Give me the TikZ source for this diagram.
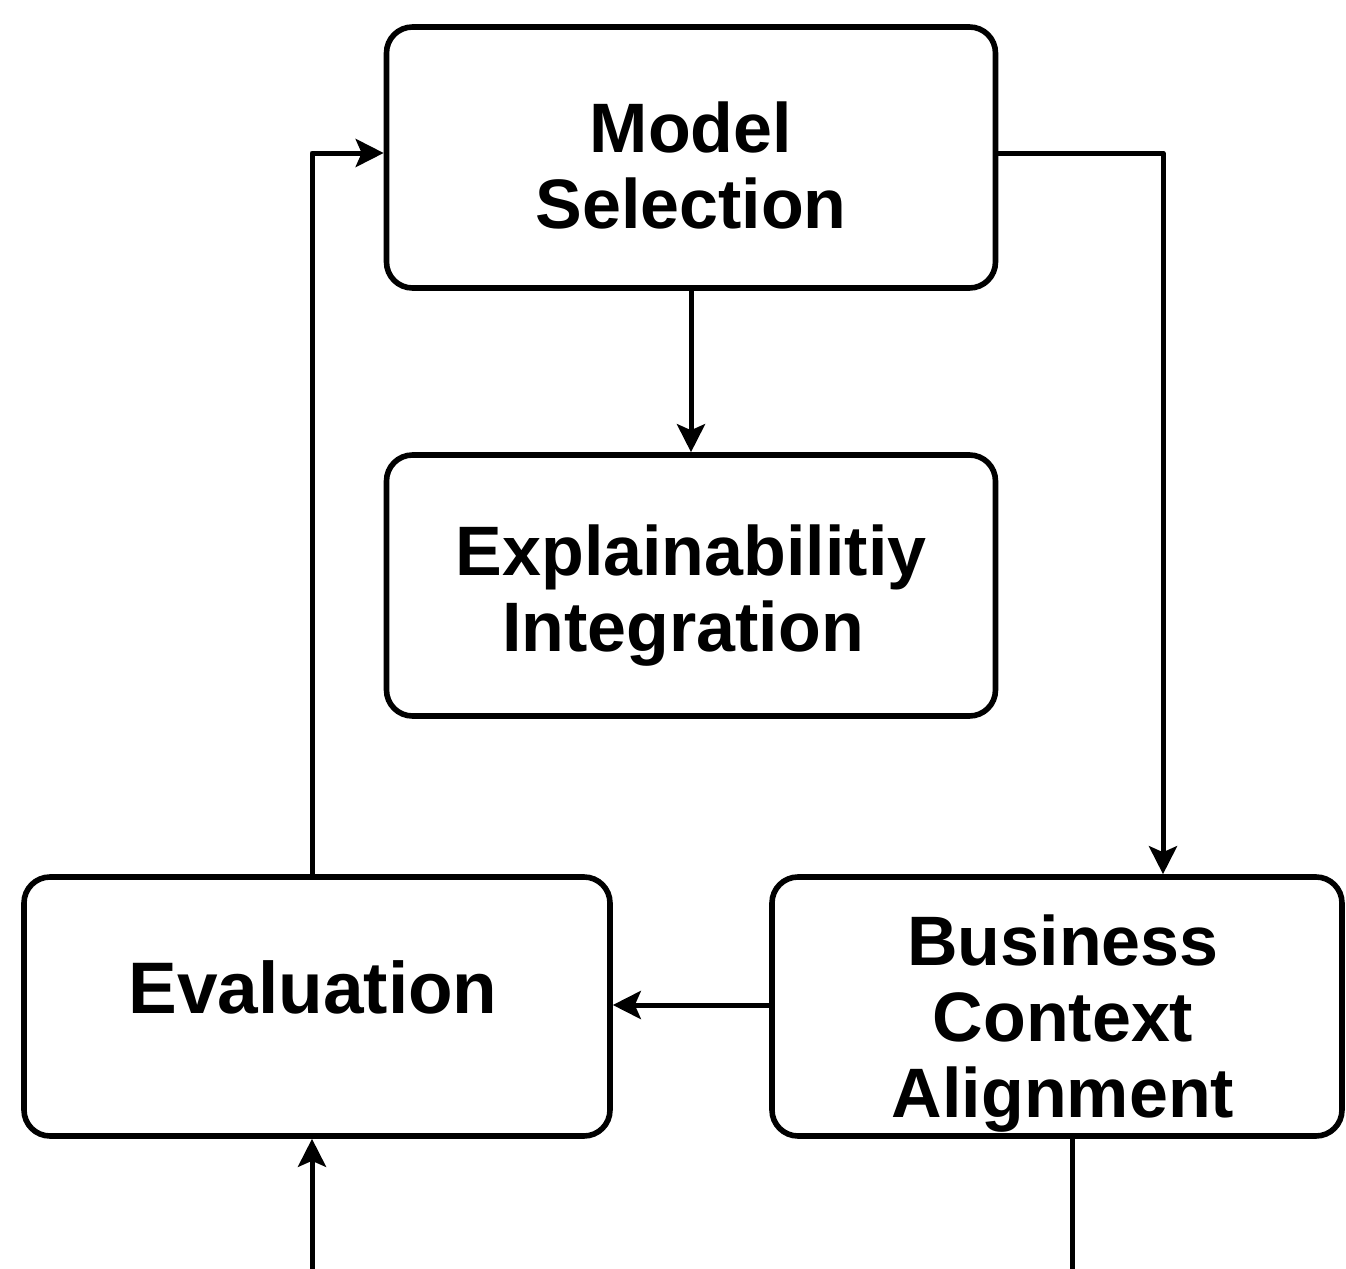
\documentclass[tikz,border=0pt]{standalone}
\usepackage{fontspec}
\setmainfont{Liberation Sans}
\usetikzlibrary{arrows.meta}
\tikzset{
	blok/.style={draw, line width=2.8pt, rounded corners=13pt, inner sep=0pt},
	chu/.style={align=center, font=\fontsize{35}{38}\selectfont\bfseries, inner sep=0pt},
	mui/.style={-{Stealth[length=14pt, width=14pt, inset=3pt]}, line width=2.5pt}
}
\begin{document}
\begin{tikzpicture}[x=0.5pt, y=-0.5pt, line join=round]
	\useasboundingbox (0,0) rectangle (1346,1269);
	
	% cac hop
	\node[blok, minimum width=609pt/2, minimum height=261pt/2,
		label={[chu, yshift=-4pt]center:{Model\\Selection}}] (MS) at (691,157.5) {};
	\node[blok, minimum width=609pt/2, minimum height=261pt/2,
		label={[chu, yshift=-5pt]center:{Explainabilitiy\\Integration\hspace*{8pt}}}] (EI) at (691,585.5) {};
	\node[blok, minimum width=586pt/2, minimum height=259pt/2,
		label={[chu, font=\fontsize{36.5}{38}\selectfont\bfseries, yshift=9.5pt, xshift=-2pt]center:Evaluation}] (EV) at (317,1006.5) {};
	\node[blok, minimum width=570pt/2, minimum height=259pt/2,
		label={[chu, yshift=-8.5pt, xshift=3pt]center:{Business\\Context\\Alignment}}] (BC) at (1057,1006.5) {};
	
	\coordinate (duoiEV) at (312,1269);
	\coordinate (duoiBC) at (1072,1269);
	
	% cac mui ten
	\draw[mui] (MS) -- (EI);
	\draw[mui] (MS.east |- 0,153) -| (BC.north -| 1163,0);
	\draw[mui] (BC.west |- 0,1005) -- (EV.east |- 0,1005);
	\draw[mui] (EV.north -| 312,0) |- (MS.west |- 0,153);
	\draw[mui] (duoiEV) -- (EV.south -| duoiEV);
	\draw[line width=2.5pt] (BC.south -| duoiBC) -- (duoiBC);
\end{tikzpicture}
\end{document}
